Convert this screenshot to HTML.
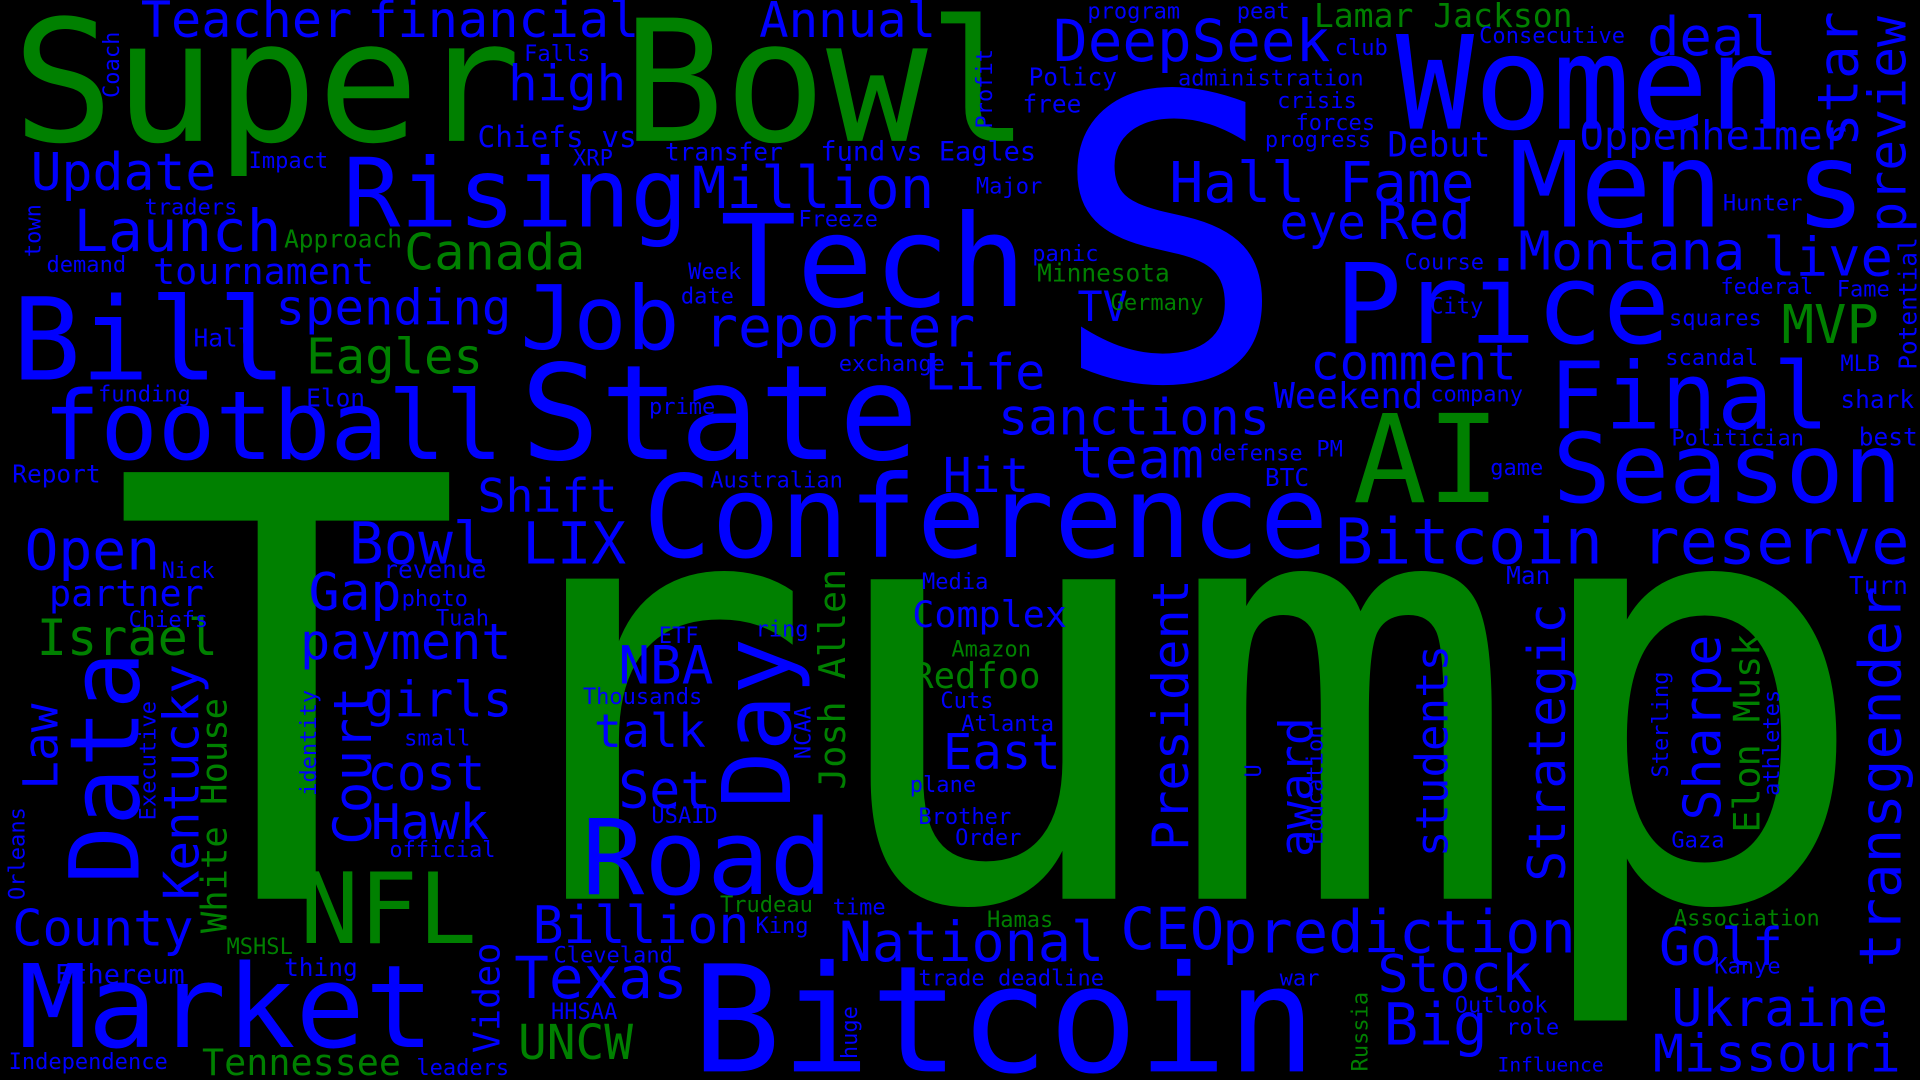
<!DOCTYPE html>
<html><head><meta charset="utf-8"><title>Word cloud</title>
<style>html,body{margin:0;padding:0;background:#000;overflow:hidden}svg{display:block}
text{font-family:"DejaVu Sans Mono","Liberation Mono",monospace}</style></head>
<body>
<svg id="cloud" width="1920" height="1080" viewBox="0 0 1568 882" preserveAspectRatio="none" xmlns="http://www.w3.org/2000/svg">
<rect width="1568" height="882" fill="#000"/>
</svg>
<script>
const words = ["Trump","S","Super Bowl","Women","Men s","Tech","Job","State","Rising","Price","Final","Season","AI","Conference","Bitcoin reserve","Bill","football","Update","Launch","tournament","spending","Eagles","Canada","Teacher","financial","Annual","high","Chiefs vs","Million","DeepSeek","Lamar Jackson","deal","Oppenheimer","Hall Fame","eye","Red","Montana","live","MVP","comment","Weekend","sanctions","team","Life","reporter","Hit","Shift","Bowl LIX","Open","partner","Israel","Gap","payment","girls","cost","Hawk","NFL","County","Market","Road","NBA","talk","Set","Billion","Texas","UNCW","Bitcoin","National","Complex","Redfoo","East","CEO","prediction","Stock","Big","Golf","Ukraine","Missouri","Tennessee",
"star","preview","Court","Kentucky","Data","Law","White House","Day","Josh Allen","President","award","students","Strategic","Sharpe","Elon Musk","transgender","Video",
"Coach","town","Profit","Potential","Executive","identity","NCAA","Sterling","athletes","Education","U","Orleans","huge","Russia",
"Falls","program","peat","club","Consecutive","Policy","administration","crisis","free","forces","progress","Debut","Impact","XRP","transfer","fund","vs Eagles","Major","traders","Freeze","Approach","demand","Hunter","Week","panic","Minnesota","Course","date","TV","Germany","City","federal","Fame","squares","Hall","exchange","scandal","MLB","company","funding","Elon","shark","prime","Politician","best","PM","defense","Report","Australian","game","BTC","Nick","revenue","Media","Man","Turn","photo","Chiefs","Tuah","ETF","ring","Amazon","Thousands","Cuts","Atlanta","small","plane","USAID","Brother","Order","Gaza","official","Trudeau","time","King","Hamas","Association","MSHSL","Cleveland","Kanye","thing","Ethereum","trade deadline","war","HHSAA","Outlook","role","Independence","leaders","Influence"];
const sizes = [478,322,138,106,97,104,72,108,78,91,76,79,100,93,52,93,78,42,47,30,40,40,41,41,41,40,40,24,47,47,27,44,33,46,39,42,44,44,44,40,29,41,45,41,46,39,38,47,46,30,41,42,41,40,40,40,80,41,94,85,43,38,42,42,47,39,121,45,30,29,40,47,48,42,47,42,42,42,30,
46,42,43,40,79,39,29,77,30,41,38,36,42,42,30,47,30,
18,18,18,20,18,18,18,18,18,18,18,18,18,18,
18,18,18,18,18,20,18,18,20,18,18,28,18,18,20,22,22,18,18,18,20,18,18,18,18,20,18,18,34,18,18,18,18,18,20,18,18,18,18,18,20,20,18,18,20,18,18,20,18,18,20,18,20,18,20,20,18,18,18,18,18,18,18,18,18,18,18,18,18,18,18,18,18,18,18,18,18,18,18,18,20,22,18,18,18,18,18,18,18];
const xs = [90,858,10,1140,1232,588,425,425,280,1090,1265,1268,1105,525,1090,10,35,25,60,125,225,250,330,115,300,620,415,390,565,860,1073,1345,1290,955,1045,1125,1240,1440,1455,1070,1040,815,875,755,575,770,390,285,20,40,30,252,245,298,300,303,245,10,15,475,505,485,505,435,420,423,565,685,745,745,770,915,998,1125,1130,1355,1365,1350,165,
1517,1556,303,162,113,47,185,645,690,970,1072,1182,1278,1405,1437,1552,408,
97,33,810,1565,127,258,662,1362,1453,1080,1030,20,700,1117,
428,888,1010,1090,1208,840,962,1043,835,1058,1033,1133,203,468,543,670,727,797,118,652,232,38,1407,562,843,847,1147,556,880,907,1168,1405,1500,1363,158,685,1360,1503,1168,80,250,1503,530,1365,1518,1075,988,10,580,1217,1033,132,313,753,1230,1510,328,105,356,538,617,777,476,768,785,330,743,532,750,780,1365,318,588,680,617,806,1367,185,452,1400,232,45,750,1045,450,1188,1230,7,340,1223];
const ys = [734,310,115,105,185,250,285,375,185,280,350,410,410,455,460,310,375,155,205,232,265,305,220,30,30,30,82,120,170,50,22,45,122,165,195,195,220,225,280,310,333,355,390,318,283,402,418,460,465,495,535,498,538,585,645,685,770,772,855,730,558,610,660,770,815,865,875,785,512,562,628,775,778,810,853,788,838,875,878,
120,190,690,735,722,645,762,660,645,695,700,700,720,670,680,790,860,
80,210,105,302,670,650,620,635,650,690,635,735,865,875,
50,15,15,45,35,70,70,88,92,106,120,128,137,135,131,131,131,158,175,185,202,222,172,228,213,230,220,248,262,253,256,240,242,266,283,303,298,303,328,328,332,333,338,364,364,373,376,394,398,388,397,472,472,481,477,485,495,512,511,525,520,536,575,578,597,609,647,672,673,690,692,700,745,747,762,757,756,779,786,795,797,803,805,805,832,827,845,873,878,875];
const greenWords = ["Trump","Super Bowl","AI","Eagles","Canada","Lamar Jackson","MVP","Israel","NFL","UNCW","Redfoo","Tennessee","White House","Josh Allen","Elon Musk","Minnesota","Germany","Approach","Amazon","Trudeau","Hamas","Association","MSHSL","Russia"];
const verticalWords = ["star","preview","Court","Kentucky","Data","Law","White House","Day","Josh Allen","President","award","students","Strategic","Sharpe","Elon Musk","transgender","Video","Coach","town","Profit","Potential","Executive","identity","NCAA","Sterling","athletes","Education","U","Orleans","huge","Russia"];

const svg = document.getElementById('cloud');
const NS = 'http://www.w3.org/2000/svg';
words.forEach((w,i)=>{
  const t = document.createElementNS(NS,'text');
  t.setAttribute('x', xs[i]);
  t.setAttribute('y', ys[i]);
  t.setAttribute('font-size', sizes[i]);
  t.setAttribute('fill', greenWords.includes(w) ? '#008000' : '#0000ff');
  if (verticalWords.includes(w)) t.setAttribute('transform', `rotate(-90 ${xs[i]} ${ys[i]})`);
  t.textContent = w;
  
  
  svg.appendChild(t);
});
</script>
</body></html>
